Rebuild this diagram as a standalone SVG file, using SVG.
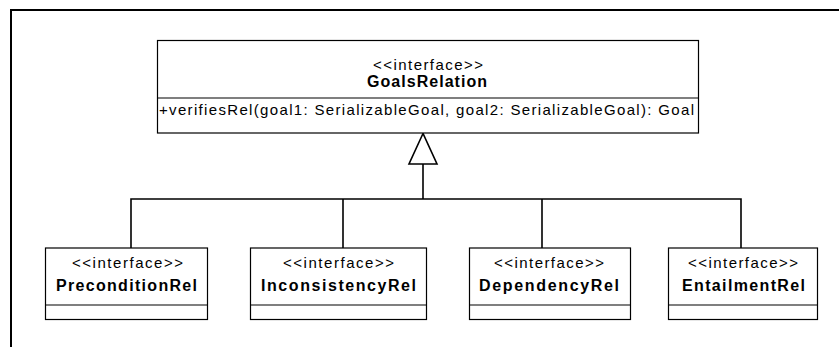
<svg xmlns="http://www.w3.org/2000/svg" width="839" height="347" viewBox="0 0 839 347">
<style>
.box{fill:#fff;stroke:#000;stroke-width:1.2}
.div{stroke:#000;stroke-width:1.2}
.st{font-family:"Liberation Sans",Arial,sans-serif;font-size:15px;fill:#000}
.nm{font-family:"Liberation Sans",Arial,sans-serif;font-size:16px;font-weight:bold;fill:#000}
.op{font-family:"Liberation Sans",Arial,sans-serif;font-size:15px;fill:#000}
.con{fill:none;stroke:#000;stroke-width:1.6}
</style>
<rect width="839" height="347" fill="#fff"/>
<g id="frame">
<path d="M11,347 V10 H839" fill="none" stroke="#000" stroke-width="2"/>
</g>
<g id="connectors">
<path class="con" d="M131,248 V199 H741 V248 M343,199 V248 M542,199 V248 M423,199 V164"/>
<polygon points="423,133.5 409,164 437,164" fill="#fff" stroke="#000" stroke-width="1.6"/>
</g>
<g id="GoalsRelation">
<rect class="box" x="157.5" y="40.5" width="541" height="92.5"/>
<line class="div" x1="157.5" y1="98" x2="698.5" y2="98"/>
<text class="st" x="373" y="70" textLength="110" lengthAdjust="spacing">&lt;&lt;interface&gt;&gt;</text>
<text class="nm" x="367" y="87" textLength="120" lengthAdjust="spacing">GoalsRelation</text>
<text class="op" x="159" y="115" textLength="535" lengthAdjust="spacing">+verifiesRel(goal1: SerializableGoal, goal2: SerializableGoal): Goal</text>
</g>
<g id="PreconditionRel">
<rect class="box" x="45.5" y="248" width="162" height="71.5"/>
<line class="div" x1="45.5" y1="305" x2="207.5" y2="305"/>
<text class="st" x="72" y="268" textLength="111" lengthAdjust="spacing">&lt;&lt;interface&gt;&gt;</text>
<text class="nm" x="56" y="291" textLength="141" lengthAdjust="spacing">PreconditionRel</text>
</g>
<g id="InconsistencyRel">
<rect class="box" x="250.5" y="248" width="176" height="71.5"/>
<line class="div" x1="250.5" y1="305" x2="426.5" y2="305"/>
<text class="st" x="283" y="268" textLength="111" lengthAdjust="spacing">&lt;&lt;interface&gt;&gt;</text>
<text class="nm" x="261" y="291" textLength="155" lengthAdjust="spacing">InconsistencyRel</text>
</g>
<g id="DependencyRel">
<rect class="box" x="469.5" y="248" width="161" height="71.5"/>
<line class="div" x1="469.5" y1="305" x2="630.5" y2="305"/>
<text class="st" x="494" y="268" textLength="110" lengthAdjust="spacing">&lt;&lt;interface&gt;&gt;</text>
<text class="nm" x="479" y="291" textLength="140" lengthAdjust="spacing">DependencyRel</text>
</g>
<g id="EntailmentRel">
<rect class="box" x="668.5" y="248" width="149" height="71.5"/>
<line class="div" x1="668.5" y1="305" x2="817.5" y2="305"/>
<text class="st" x="688" y="268" textLength="110" lengthAdjust="spacing">&lt;&lt;interface&gt;&gt;</text>
<text class="nm" x="682" y="291" textLength="123" lengthAdjust="spacing">EntailmentRel</text>
</g>
</svg>
